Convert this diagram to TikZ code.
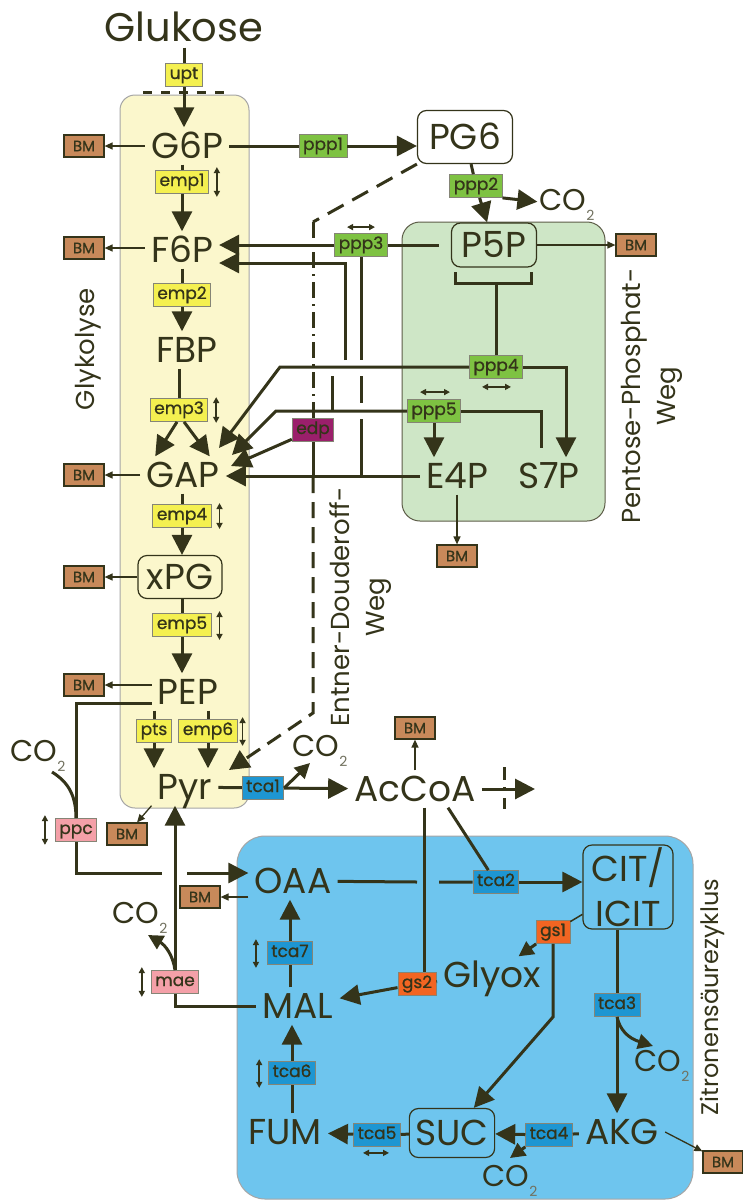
\documentclass[tikz,border=0pt]{standalone}
\usepackage{fontspec}
\setmainfont{Poppins}
\newfontfamily\enzfont{Poppins}[FakeBold=0.8]
\usetikzlibrary{arrows.meta}
\definecolor{inkDark}{RGB}{52,52,26}
\definecolor{glycBg}{RGB}{251,247,204}
\definecolor{pppBg}{RGB}{206,230,198}
\definecolor{tcaBg}{RGB}{110,197,238}
\definecolor{empYellow}{RGB}{244,240,80}
\definecolor{pppGreen}{RGB}{126,194,66}
\definecolor{tcaBlue}{RGB}{30,150,210}
\definecolor{gsOrange}{RGB}{242,101,34}
\definecolor{edpPurple}{RGB}{155,31,107}
\definecolor{anaPink}{RGB}{244,160,168}
\definecolor{bmBrown}{RGB}{200,137,90}
\newcommand{\cotwo}{CO\raisebox{-0.35em}{\fontsize{14}{14}\selectfont\color{inkDark!70}2}}

\begin{document}
\begin{tikzpicture}[x=1pt,y=-1pt,
  mettext/.style={text=inkDark,font=\fontsize{36}{45}\selectfont},
  met/.style={mettext,inner sep=6pt,text height=25pt,text depth=0pt},
  metbox/.style={met,draw=inkDark,line width=1.2pt,rounded corners=9pt},
  enz/.style={draw=inkDark!60,line width=0.8pt,inner xsep=4pt,inner ysep=0pt,minimum height=23pt,text height=11pt,text depth=3pt,text=inkDark,font=\enzfont\fontsize{17}{17}\selectfont},
  enzY/.style={enz,fill=empYellow},
  enzG/.style={enz,fill=pppGreen},
  enzB/.style={enz,fill=tcaBlue},
  enzO/.style={enz,fill=gsOrange},
  enzP/.style={enz,fill=edpPurple},
  enzR/.style={enz,fill=anaPink},
  bm/.style={draw=inkDark,line width=1.2pt,fill=bmBrown,minimum width=40pt,minimum height=22pt,inner sep=0pt,text=inkDark,font=\enzfont\fontsize{15}{15}\selectfont},
  co2/.style={inner sep=2pt,text=inkDark,font=\fontsize{30}{30}\selectfont},
  lbl/.style={rotate=90,align=center,text=inkDark,font=\fontsize{26}{35}\selectfont},
  link/.style={draw=inkDark,line width=3pt},
  flow/.style={link,-{Triangle[length=20pt,width=20pt]}},
  flowsm/.style={link,-{Triangle[length=15pt,width=15pt]}},
  bmflow/.style={draw=inkDark,line width=1.3pt,-{Triangle[length=8pt,width=7pt]}},
  rev/.style={draw=inkDark,line width=1.5pt,{Triangle[length=6pt,width=6pt]}-{Triangle[length=6pt,width=6pt]}}]
\useasboundingbox (0,0) rectangle (742,1200);
\fill[white] (0,0) rectangle (742,1200);
% Pathway areas
\draw[fill=glycBg,draw=gray!70,line width=1pt,rounded corners=15pt] (120,95) rectangle (249,808);
\draw[fill=pppBg,draw=inkDark!80,line width=1pt,rounded corners=18pt] (402,222) rectangle (605,521);
\draw[fill=tcaBg,draw=gray!70,line width=1pt,rounded corners=28pt] (237,836) rectangle (693,1199);
% Pathway names
\node[lbl] (glyclbl) at (88,349) {Glykolyse};
\node[lbl] (edlbl) at (361,607) {Entner-Douderoff-\\Weg};
\node[lbl] (ppplbl) at (652,396) {Pentose-Phosphat-\\Weg};
\node[lbl,font=\fontsize{24}{30}\selectfont] (tcalbl) at (712,997) {Zitronensäurezyklus};
% Metabolites
\node[met,font=\fontsize{40}{44}\selectfont] (glc) at (184,29) {Glukose};
\node[met] (g6p) at (187,146) {G6P};
\node[met] (f6p) at (182,250) {F6P};
\node[met] (fbp) at (187,350) {FBP};
\node[met] (gap) at (183,475) {GAP};
\node[metbox,minimum width=84pt,minimum height=43pt] (xpg) at (180,577) {xPG};
\node[met] (pep) at (188,692) {PEP};
\node[met] (pyr) at (185,787) {Pyr};
\node[metbox,minimum width=95pt,minimum height=53pt] (pg6) at (465,137) {PG6};
\node[metbox,minimum width=85pt,minimum height=44pt] (p5p) at (494,245) {P5P};
\node[met] (e4p) at (457,476) {E4P};
\node[met] (s7p) at (549,476) {S7P};
\node[met] (accoa) at (415,789) {AcCoA};
\node[met] (oaa) at (293,881) {OAA};
\node[met] (mal) at (298,1006) {MAL};
\node[met] (fum) at (285,1132) {FUM};
\node[metbox,minimum width=85pt,minimum height=49pt] (suc) at (452,1133) {SUC};
\node[met] (akg) at (622,1132) {AKG};
\node[met] (glyox) at (492,975) {Glyox};
\node[mettext,draw=inkDark,line width=1.2pt,rounded corners=9pt,align=center,inner sep=2pt,minimum width=90pt,minimum height=84pt] (cit) at (628,887) {CIT/\\ICIT};
% Enzymes
\node[enzY] (upt) at (184,75) {upt};
\node[enzY] (emp1) at (182,182) {emp1};
\node[enzY] (emp2) at (182,295) {emp2};
\node[enzY] (emp3) at (179,410) {emp3};
\node[enzY] (emp4) at (182,516) {emp4};
\node[enzY] (emp5) at (182,625) {emp5};
\node[enzY] (pts) at (154,731) {pts};
\node[enzY] (emp6) at (208,731) {emp6};
\node[enzG] (ppp1) at (323,146) {ppp1};
\node[enzG] (ppp2) at (476,186) {ppp2};
\node[enzG] (ppp3) at (361,245) {ppp3};
\node[enzG] (ppp4) at (496,367) {ppp4};
\node[enzG] (ppp5) at (434,411) {ppp5};
\node[enzP] (edp) at (313,430) {edp};
\node[enzB] (tca1) at (263,788) {tca1};
\node[enzB] (tca2) at (496,882) {tca2};
\node[enzB] (tca3) at (617,1005) {tca3};
\node[enzB] (tca4) at (549,1135) {tca4};
\node[enzB] (tca5) at (377,1135) {tca5};
\node[enzB] (tca6) at (292,1073) {tca6};
\node[enzB] (tca7) at (290,953) {tca7};
\node[enzO] (gs1) at (553,932) {gs1};
\node[enzO] (gs2) at (417,984) {gs2};
\node[enzR] (ppc) at (76,830) {ppc};
\node[enzR] (mae) at (175,982) {mae};
% Biomass drains
\node[bm] (bmg6p) at (84,146) {BM};
\node[bm] (bmf6p) at (84,248) {BM};
\node[bm] (bmgap) at (84,475) {BM};
\node[bm] (bmxpg) at (84,577) {BM};
\node[bm] (bmpep) at (84,685) {BM};
\node[bm] (bmpyr) at (127,834) {BM};
\node[bm] (bmp5p) at (636,245) {BM};
\node[bm] (bme4p) at (457,556) {BM};
\node[bm] (bmaccoa) at (415,728) {BM};
\node[bm] (bmoaa) at (200,897) {BM};
\node[bm] (bmakg) at (723,1162) {BM};
% CO2
\node[co2] (co2ppp) at (567,205) {\cotwo};
\node[co2] (co2ppc) at (38,756) {\cotwo};
\node[co2] (co2tca1) at (320,751) {\cotwo};
\node[co2] (co2mae) at (140,918) {\cotwo};
\node[co2] (co2tca3) at (662,1066) {\cotwo};
\node[co2] (co2tca4) at (510,1181) {\cotwo};
% Free ends
\coordinate (tk1) at (345,360);
\coordinate (k4) at (280,367);
\coordinate (k5) at (276,411);
\coordinate (gapin1) at (219,448);
\coordinate (gapin2) at (232,455);
\coordinate (gapin3) at (231,466);
\coordinate (ed1) at (313,222);
\coordinate (ed2) at (313,713);
\coordinate (pyrin) at (229,770);
\coordinate (co2in1) at (310,763);
\coordinate (accoaout) at (535,789);
\coordinate (ppcco) at (52,772);
\coordinate (maeco) at (148,935);
\coordinate (tca3co) at (653,1046);
\coordinate (tca4co) at (510,1158);
\coordinate (gsbend) at (553,1017);
% Glycolysis
\draw[line width=3pt,draw=inkDark,dash pattern=on 9pt off 9pt] (143,92) -- (225,92);
\draw[link] (glc) -- (upt);
\draw[flow] (upt) -- (upt |- g6p.north);
\draw[link] (emp1 |- g6p.south) -- (emp1);
\draw[flow] (emp1) -- (emp1 |- f6p.north);
\draw[link] (emp2 |- f6p.south) -- (emp2);
\draw[flow] (emp2) -- (emp2 |- fbp.north);
\draw[link] (emp3 |- fbp.south) -- (emp3);
\draw[flow] ([xshift=-2pt]emp3.south) -- ([xshift=15pt]gap.north west);
\draw[flow] ([xshift=5pt]emp3.south) -- ([xshift=-16pt]gap.north east);
\draw[link] (emp4 |- gap.south) -- (emp4);
\draw[flow] (emp4) -- (emp4 |- xpg.north);
\draw[link] (emp5 |- xpg.south) -- (emp5);
\draw[flow] (emp5) -- (emp5 |- pep.north);
\draw[link] (pts |- pep.south) -- (pts);
\draw[flow] (pts) -- (pts |- pyr.north);
\draw[link] (emp6 |- pep.south) -- (emp6);
\draw[flow] (emp6) -- (emp6 |- pyr.north);
% Reversible steps
\draw[rev] ([shift={(8,-3)}]emp1.north east) -- ([shift={(8,3)}]emp1.south east);
\draw[rev] ([shift={(8,-1)}]emp3.north east) -- ([shift={(8,1)}]emp3.south east);
\draw[rev] ([shift={(8,-1)}]emp4.north east) -- ([shift={(8,1)}]emp4.south east);
\draw[rev] ([shift={(8,-2)}]emp5.north east) -- ([shift={(8,3)}]emp5.south east);
\draw[rev] ([shift={(5,-2)}]emp6.north east) -- ([shift={(5,3)}]emp6.south east);
\draw[rev] ([shift={(-10,-3)}]ppc.north west) -- ([shift={(-10,3)}]ppc.south west);
\draw[rev] ([shift={(-9,-3)}]mae.north west) -- ([shift={(-9,3)}]mae.south west);
\draw[rev] ([shift={(-11,-2)}]tca7.north west) -- ([shift={(-11,3)}]tca7.south west);
\draw[rev] ([shift={(-9,-2)}]tca6.north west) -- ([shift={(-9,3)}]tca6.south west);
\draw[rev] ([shift={(-14,6)}]tca5.south) -- ([shift={(12,6)}]tca5.south);
\draw[rev] ([shift={(-14,-6)}]ppp3.north) -- ([shift={(14,-6)}]ppp3.north);
\draw[rev] ([shift={(-14,8)}]ppp4.south) -- ([shift={(15,8)}]ppp4.south);
\draw[rev] ([shift={(-14,-7)}]ppp5.north) -- ([shift={(16,-7)}]ppp5.north);
% Biomass
\draw[bmflow] (g6p) -- (bmg6p);
\draw[bmflow] (f6p.west |- bmf6p) -- (bmf6p);
\draw[bmflow] (gap) -- (bmgap);
\draw[bmflow] (xpg) -- (bmxpg);
\draw[bmflow] (pep.west |- bmpep) -- (bmpep);
\draw[bmflow] (pyr.south west) -- (bmpyr);
\draw[bmflow] (p5p) -- (bmp5p);
\draw[bmflow] (e4p) -- (bme4p);
\draw[bmflow] (accoa) -- (bmaccoa);
\draw[bmflow] (oaa.west |- bmoaa) -- (bmoaa);
\draw[bmflow] (akg.east) -- (bmakg);
% Pentose phosphate pathway
\draw[link] (g6p) -- (ppp1);
\draw[flow] (ppp1) -- (ppp1 -| pg6.west);
\draw[link] (pg6) -- (ppp2);
\draw[flow] (ppp2) -- (p5p);
\draw[flow] (ppp2.south east) -- (co2ppp);
\draw[link] ([xshift=-12pt]p5p.west) -- (ppp3);
\draw[flow] (ppp3) -- (ppp3 -| f6p.east);
\draw[flow] (332,411) -- (332,376) (tk1) |- ([yshift=-13pt]f6p.east);
\draw[link] (ppp3) -- (361,360) (361,376) -- (361,403) (361,419) -- (361,477);
\draw[link] (455,272) |- (531,283) -- (531,272);
\draw[link] (496,283) -- (ppp4);
\draw[flow] (ppp4) -- (k4) -- (gapin1);
\draw[flow] (ppp4) -| ([xshift=17pt]s7p.north);
\draw[flow] (ppp5) -- (k5) -- (gapin2);
\draw[link] (ppp5) -| ([xshift=-8pt,yshift=9pt]s7p.north);
\draw[flow] (ppp5) -- (ppp5 |- e4p.north);
\draw[flow] (e4p) -- (e4p -| gap.east);
% Entner-Doudoroff pathway
\draw[link,dash pattern=on 18pt off 10pt] (pg6.south west) -- (ed1);
\draw[link,dash pattern=on 16pt off 6pt on 2pt off 6pt] (ed1) -- (edp);
\draw[link] (edp) -- (313,477);
\draw[flow,dash pattern=on 16pt off 9pt] (313,477) -- (ed2) -- (pyrin);
\draw[flow] (edp) -- (gapin3);
% Pyruvate node
\draw[link] (pyr) -- (tca1);
\draw[flow] (tca1) -- (accoa);
\draw[flowsm] (tca1.east) -- (co2in1);
\draw[flow] (accoa) -- (accoaout);
\draw[line width=3pt,draw=inkDark,dash pattern=on 13pt off 7pt on 4pt off 7pt] (504,767) -- (504,809);
\draw[link] ([yshift=-11pt]pep.west) -| (ppc);
\draw[link] (ppc.north) .. controls (76,795) and (68,782) .. (ppcco);
\draw[link] (ppc) |- (162,873);
\draw[flow] (187,873) -- (187,873 -| oaa.west);
\draw[flow] (mae) -- (mae |- pyr.south);
\draw[link] (mae) |- (mal);
\draw[flowsm] (mae.north) .. controls (173,955) and (165,945) .. (maeco);
% Citric acid cycle
\draw[link] (oaa) -- (417,882) (439,882) -- (tca2);
\draw[flow] (tca2) -- (tca2 -| cit.west);
\draw[link] ([xshift=33pt]accoa.south) -- (tca2);
\draw[link] ([xshift=9pt]accoa.south) -- ([xshift=9pt]accoa.south |- gs2.north);
\draw[flow] (gs2) -- (mal);
\draw[link] (gs2) -- (glyox);
\draw[flowsm] (gs1) -- (glyox);
\draw[line width=1.5pt,draw=inkDark] (gs1) -- (cit);
\draw[flow] (gs1) -- (gsbend) -- (suc);
\draw[link] (tca3 |- cit.south) -- (tca3);
\draw[flow] (tca3) -- (tca3 |- akg.north);
\draw[flowsm] (tca3.south) .. controls (620,1030) and (628,1038) .. (tca3co);
\draw[link] (akg) -- (tca4);
\draw[flow] (tca4) -- (suc);
\draw[flowsm] (tca4.south west) -- (tca4co);
\draw[link] (suc) -- (tca5);
\draw[flow] (tca5) -- (fum);
\draw[link] (tca6 |- fum.north) -- (tca6);
\draw[flow] (tca6) -- (tca6 |- mal.south);
\draw[link] (tca7 |- mal.north) -- (tca7);
\draw[flow] (tca7) -- (tca7 |- oaa.south);
\end{tikzpicture}
\end{document}
